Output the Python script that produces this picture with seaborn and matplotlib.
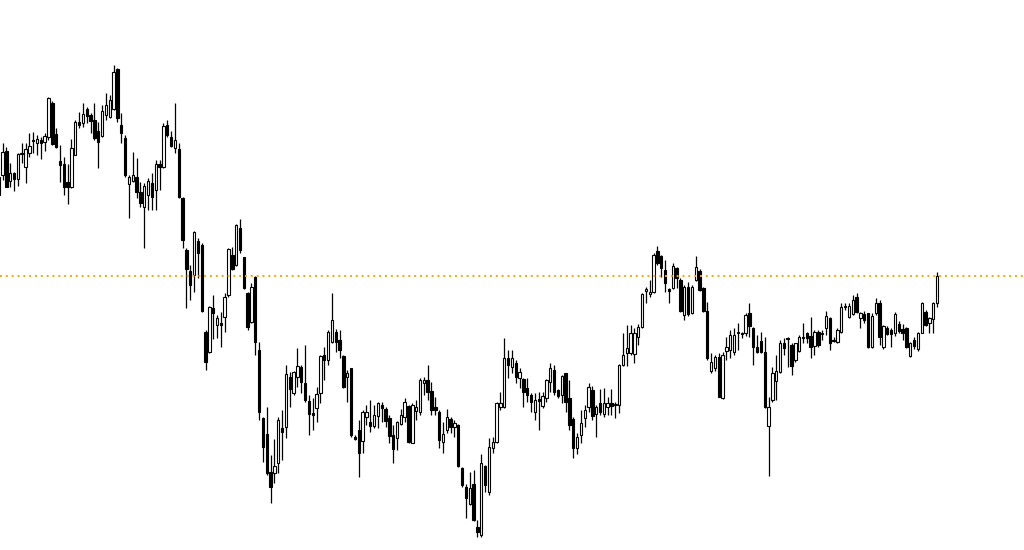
import numpy as np
import matplotlib
matplotlib.use("Agg")
import matplotlib.pyplot as plt
import seaborn as sns

# OHLC values (arbitrary price units, axis hidden)
open_ = [373,375,399,369,377,371,396,383,397,409,407,410,408,413,447,416,389,386,368,363,395,428,427,
         441,435,430,419,414,435,433,441,481,425,412,366,369,373,358,343,355,367,360,386,383,425,413,402,401,352,
         300,279,275,309,305,218,198,242,225,227,233,255,295,285,322,293,257,228,273,
         200,132,116,78,77,87,122,123,173,157,173,183,167,149,137,142,157,195,190,208,218,210,194,
         173,182,113,120,109,133,128,124,134,145,141,132,115,112,126,133,144,107,139,138,167,170,159,143,
         138,108,120,131,123,125,82,63,46,66,23,15,84,58,102,108,143,143,192,
         183,187,172,171,162,155,138,151,144,152,168,180,160,155,177,152,131,102,115,132,143,160,
         136,147,136,143,147,145,145,185,197,197,196,213,223,259,256,258,299,294,280,261,
         262,282,270,235,263,237,270,279,262,239,179,182,193,152,199,200,198,
         217,216,217,237,222,203,209,198,124,150,169,178,207,211,205,190,199,212,217,
         214,204,218,216,222,232,210,208,218,243,233,236,253,232,236,237,203,237,
         247,203,222,220,217,226,221,222,194,210,201,217,238,227,231,247]
high = [375,407,403,387,378,397,407,407,417,418,415,413,417,453,449,422,405,393,386,411,430,438,447,
        443,437,447,428,445,457,455,485,482,437,415,375,398,392,368,367,372,377,390,390,427,430,419,447,407,353,
        302,285,319,312,307,220,244,255,235,238,257,302,303,326,331,293,258,267,274,
        208,133,143,95,111,133,140,185,178,179,202,185,205,155,152,163,195,203,220,257,221,220,195,
        180,182,115,130,140,145,150,145,148,148,143,135,125,129,141,152,145,147,150,172,173,185,168,153,
        140,128,141,133,130,126,83,66,78,80,30,96,85,112,113,148,158,212,200,
        200,190,182,172,172,157,157,158,158,171,187,185,161,175,177,170,133,117,140,145,167,164,
        145,161,162,153,161,148,186,217,225,225,222,226,257,263,270,297,304,295,290,262,
        287,283,272,265,268,265,294,281,263,248,197,195,197,198,213,220,222,
        227,218,237,247,223,215,218,213,153,183,195,210,212,213,207,207,215,227,218,
        233,220,220,220,239,233,213,222,247,247,247,255,257,238,239,237,237,252,
        250,225,224,222,238,229,226,223,208,213,218,248,240,233,248,278]
low = [352,370,363,363,359,364,387,367,393,397,395,391,399,410,405,402,368,355,346,362,395,422,423,
       427,417,410,382,413,430,432,440,428,407,373,332,368,352,343,302,340,340,340,360,382,413,403,397,352,302,
       242,250,258,272,238,180,197,211,212,203,218,253,280,284,297,261,220,227,195,
       130,88,75,47,67,77,90,112,143,155,163,157,148,115,120,128,147,170,185,207,198,192,162,
       148,113,110,73,97,125,118,122,122,128,123,107,87,100,125,128,107,107,130,135,155,150,135,135,
       102,97,117,117,113,83,63,32,45,29,13,13,58,55,97,107,140,142,172,
       177,167,162,143,148,138,130,120,142,148,158,155,152,147,138,120,92,96,107,123,138,130,
       113,135,133,135,135,132,137,184,184,195,187,205,222,247,253,257,285,273,258,247,
       261,262,238,230,234,236,269,259,238,190,177,179,153,151,190,192,195,
       200,212,214,213,185,197,197,142,74,148,150,177,195,183,175,188,198,207,207,
       192,195,203,210,215,200,208,207,217,240,232,235,237,222,227,202,202,235,
       205,201,215,203,214,217,210,202,193,201,199,217,224,217,217,243]
close = [355,398,363,377,371,396,397,401,404,410,411,407,414,452,406,403,385,363,363,402,428,425,436,
         434,429,412,408,439,445,450,478,432,417,375,373,375,358,347,364,369,353,386,383,424,415,404,410,353,310,
         281,265,318,297,239,188,243,237,232,225,253,301,281,325,300,262,223,263,208,
         138,103,77,63,84,130,118,176,161,178,184,168,150,136,135,156,194,190,218,230,208,200,163,
         177,115,111,97,138,138,124,135,147,142,129,114,101,128,135,148,108,145,143,170,170,158,140,140,
         110,116,133,123,127,84,65,52,62,30,18,87,65,103,108,147,147,192,185,
         192,173,178,158,155,148,150,149,154,170,182,158,154,174,148,125,102,113,127,140,163,134,
         143,138,147,147,144,146,185,195,202,217,217,223,256,261,258,295,287,282,267,259,
         284,272,239,263,236,263,283,260,239,192,188,193,153,195,203,215,215,
         218,217,235,224,203,198,198,143,143,177,179,207,202,212,184,207,213,213,212,
         203,218,205,217,234,207,209,220,243,244,244,250,238,237,230,203,234,247,
         213,224,216,216,236,219,217,203,207,204,217,247,225,232,247,274]
bid_level = 274

sns.set_theme(style="white")

o = np.array(open_, float)
h = np.array(high, float)
l = np.array(low, float)
c = np.array(close, float)
idx = np.arange(len(o))

fig = plt.figure(figsize=(10.24, 5.5), dpi=100)
ax = fig.add_axes([0, 0, 1, 1])
ax.set_facecolor("white")

ax.vlines(idx, l, h, color="black", linewidth=0.9, zorder=1)
bull = c >= o
bottom = np.minimum(o, c)
height = np.maximum(np.abs(c - o), 1.0)
ax.bar(idx, height, bottom=bottom, width=0.62,
       color=np.where(bull, "white", "black"), edgecolor="black",
       linewidth=0.8, zorder=2)

ax.axhline(bid_level, color="#FFA500", linestyle=(0, (1.0, 2.0)), linewidth=1.4, zorder=3)

ax.set_xlim(0.34, 0.34 + 1024 / 3.83)
ax.set_ylim(0, 550)
ax.set_axis_off()
sns.despine(ax=ax, left=True, bottom=True)

fig.savefig("out.png", dpi=100, facecolor="white")
